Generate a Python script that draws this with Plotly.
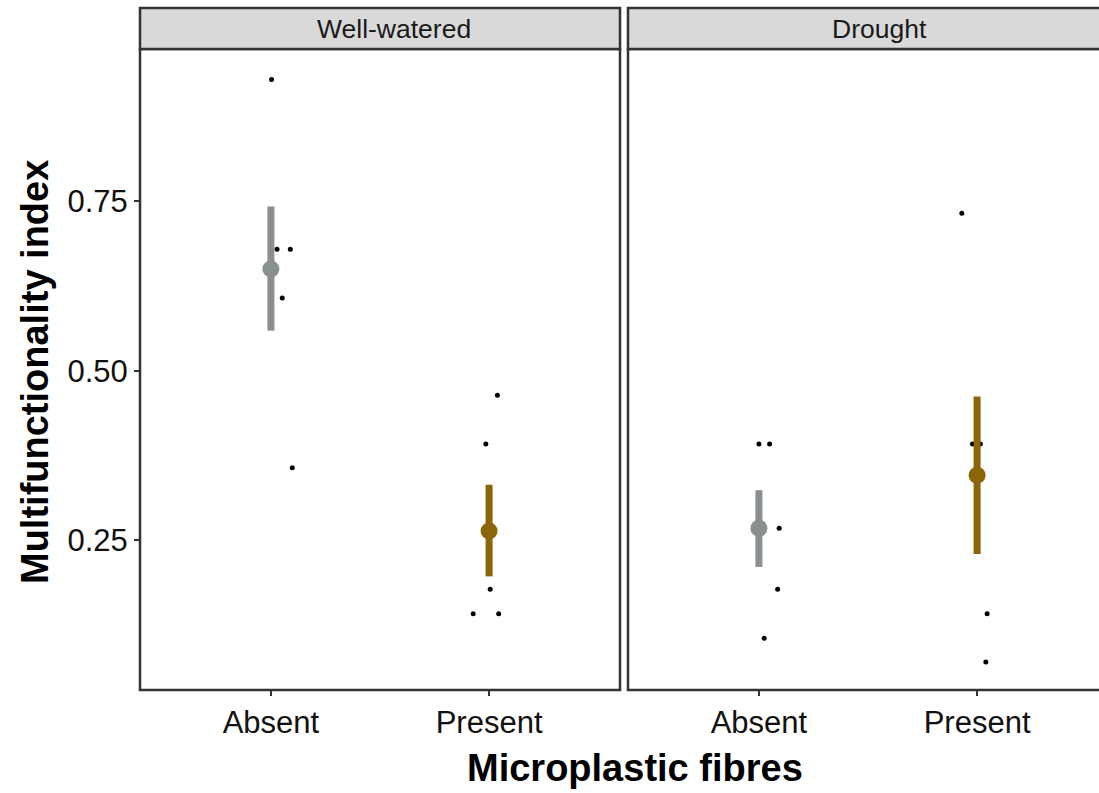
import plotly.graph_objects as go

# ---- data ----
conditions = ["Well-watered", "Drought"]
fibres = ["Absent", "Present"]
fibre_pos = [1, 2]

# individual observations (jittered x positions in category units)
ww_absent_x = [1.003, 1.028, 1.089, 1.052, 1.098]
ww_absent_y = [0.929, 0.679, 0.679, 0.607, 0.357]
ww_present_x = [2.038, 1.985, 2.005, 1.927, 2.044]
ww_present_y = [0.464, 0.392, 0.178, 0.142, 0.142]
dr_absent_x = [1.000, 1.049, 1.093, 1.086, 1.024]
dr_absent_y = [0.392, 0.392, 0.268, 0.178, 0.106]
dr_present_x = [1.930, 1.979, 2.015, 2.046, 2.040]
dr_present_y = [0.732, 0.392, 0.392, 0.142, 0.071]

# summary (mean with lower / upper bar ends)
ww_mean = [0.650, 0.264]
ww_lower = [0.559, 0.197]
ww_upper = [0.742, 0.332]
dr_mean = [0.268, 0.346]
dr_lower = [0.211, 0.230]
dr_upper = [0.324, 0.462]

colors = ["#8A908D", "#8B6508"]

y_ticks = [0.25, 0.50, 0.75]
y_tick_text = ["0.25", "0.50", "0.75"]

# ---- layout geometry ----
W, H = 1099, 793
ML, MR, MT, MB = 140, 0, 49, 103
PW = W - ML - MR
PH = H - MT - MB
p1 = (0.0, 480 / PW)
p2 = (488 / PW, 1.0)
px_per_unit = 480 / 2.2
x2_end = 0.4 + (p2[1] - p2[0]) * PW / px_per_unit

FONT = "Liberation Sans, Arial, sans-serif"
BORDER = "#333333"

fig = go.Figure()

panels = [
    ("x", "y", ww_absent_x, ww_absent_y, ww_present_x, ww_present_y, ww_mean, ww_lower, ww_upper),
    ("x2", "y2", dr_absent_x, dr_absent_y, dr_present_x, dr_present_y, dr_mean, dr_lower, dr_upper),
]

for xa, ya, ax_, ay_, px_, py_, mean, lo, hi in panels:
    fig.add_trace(go.Scatter(
        x=ax_ + px_, y=ay_ + py_, mode="markers", xaxis=xa, yaxis=ya,
        marker=dict(color="black", size=5), showlegend=False, hoverinfo="y"))
    for i in range(2):
        fig.add_trace(go.Scatter(
            x=[fibre_pos[i]], y=[mean[i]], mode="markers", xaxis=xa, yaxis=ya,
            marker=dict(color=colors[i], size=17),
            error_y=dict(type="data", symmetric=False,
                         array=[hi[i] - mean[i]], arrayminus=[mean[i] - lo[i]],
                         color=colors[i], thickness=7, width=0),
            showlegend=False))

xaxis_common = dict(
    tickmode="array", tickvals=fibre_pos, ticktext=fibres,
    ticks="outside", ticklen=5, tickwidth=1.5, tickcolor=BORDER,
    tickfont=dict(family=FONT, size=31, color="#111111"),
    showgrid=False, zeroline=False, showline=False, fixedrange=True,
)
yaxis_common = dict(
    range=[0.0296, 0.974], showgrid=False, zeroline=False, showline=False,
    fixedrange=True,
)

fig.update_layout(
    width=W, height=H,
    margin=dict(l=ML, r=MR, t=MT, b=MB),
    paper_bgcolor="white", plot_bgcolor="white",
    xaxis=dict(domain=list(p1), range=[0.4, 2.6], anchor="y", **xaxis_common),
    xaxis2=dict(domain=list(p2), range=[0.4, x2_end], anchor="y2", **xaxis_common),
    yaxis=dict(domain=[0, 1], anchor="x", tickmode="array", tickvals=y_ticks,
               ticktext=y_tick_text, ticks="outside", ticklen=5, tickwidth=1.5,
               tickcolor=BORDER, tickfont=dict(family=FONT, size=31, color="#111111"),
               **yaxis_common),
    yaxis2=dict(domain=[0, 1], anchor="x2", matches="y", showticklabels=False,
                ticks="", **yaxis_common),
    showlegend=False,
)

strip_top = 1 + 41 / PH
shapes = []
for (x0, x1) in [(p1[0], p1[1]), (p2[0], p2[1] + 0.02)]:
    shapes.append(dict(type="rect", xref="paper", yref="paper", x0=x0, x1=x1, y0=0, y1=1,
                       line=dict(color=BORDER, width=2.5), fillcolor="rgba(0,0,0,0)", layer="above"))
    shapes.append(dict(type="rect", xref="paper", yref="paper", x0=x0, x1=x1, y0=1, y1=strip_top,
                       line=dict(color=BORDER, width=2.5), fillcolor="#D9D9D9", layer="above"))
fig.update_layout(shapes=shapes)

annotations = [
    dict(text=conditions[0], xref="paper", yref="paper", x=(394 - ML) / PW,
         y=(1 + strip_top) / 2, xanchor="center", yanchor="middle", showarrow=False,
         font=dict(family=FONT, size=26.5, color="#1A1A1A")),
    dict(text=conditions[1], xref="paper", yref="paper",
         x=(879 - ML) / PW, y=(1 + strip_top) / 2,
         xanchor="center", yanchor="middle", showarrow=False,
         font=dict(family=FONT, size=26.5, color="#1A1A1A")),
    dict(text="<b>Microplastic fibres</b>", xref="paper", yref="paper",
         x=(635 - ML) / PW, y=(H - MB - 768) / PH, xanchor="center", yanchor="middle",
         showarrow=False, font=dict(family=FONT, size=38, color="black")),
    dict(text="<b>Multifunctionality index</b>", xref="paper", yref="paper",
         x=(35 - ML) / PW, y=(H - MB - 372) / PH, xanchor="center", yanchor="middle",
         textangle=-90, showarrow=False, font=dict(family=FONT, size=38, color="black")),
]
fig.update_layout(annotations=annotations)

fig.write_html("out.html", config={"displayModeBar": False})
